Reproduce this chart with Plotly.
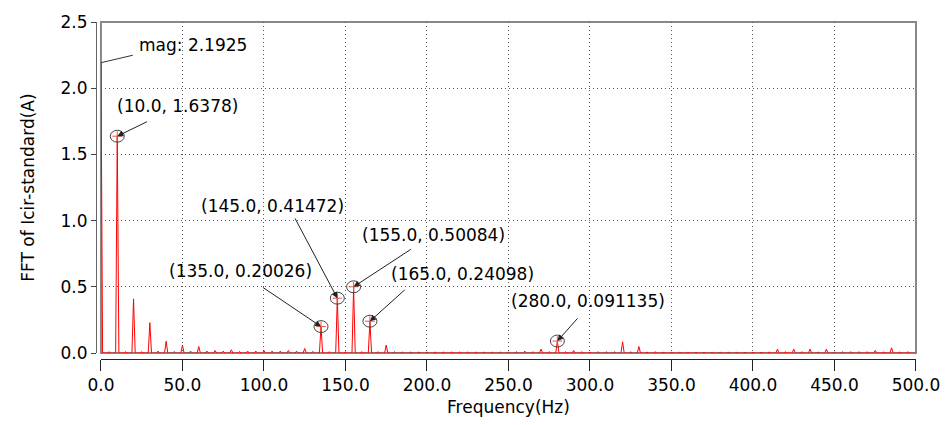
import plotly.graph_objects as go

# Spectrum magnitudes sampled on the 5 Hz harmonic grid (0 ... 500 Hz)
freq_hz = list(range(0, 505, 5))
magnitude = [
    2.1925, 0.010, 1.6378, 0.010, 0.41, 0.010, 0.23, 0.015, 0.09, 0.012,   # 0-45
    0.06, 0.015, 0.05, 0.015, 0.02, 0.015, 0.025, 0.012, 0.015, 0.015,     # 50-95
    0.02, 0.015, 0.015, 0.02, 0.015, 0.035, 0.012, 0.20026, 0.010, 0.41472,  # 100-145
    0.010, 0.50084, 0.010, 0.24098, 0.010, 0.06, 0.010, 0.008, 0.008, 0.008,  # 150-195
    0.008, 0.008, 0.008, 0.008, 0.008, 0.008, 0.008, 0.008, 0.008, 0.008,  # 200-245
    0.008, 0.010, 0.015, 0.010, 0.03, 0.010, 0.091135, 0.010, 0.02, 0.010,  # 250-295
    0.008, 0.010, 0.010, 0.010, 0.085, 0.010, 0.05, 0.008, 0.010, 0.006,   # 300-345
    0.006, 0.006, 0.006, 0.006, 0.006, 0.006, 0.006, 0.006, 0.006, 0.006,  # 350-395
    0.006, 0.006, 0.008, 0.03, 0.010, 0.03, 0.010, 0.03, 0.008, 0.03,      # 400-445
    0.008, 0.010, 0.010, 0.010, 0.010, 0.02, 0.008, 0.04, 0.008, 0.010,    # 450-495
    0.0,                                                                   # 500
]

# Marked harmonics: (frequency, magnitude) pairs shown with cursors
mark_freq = [10.0, 135.0, 145.0, 155.0, 165.0, 280.0]
mark_mag = [1.6378, 0.20026, 0.41472, 0.50084, 0.24098, 0.091135]
# Label anchors (left/middle) and leader-line tails in data units
label_x = [8.5, 40.8, 60.2, 158.8, 177.0, 250.6]
label_y = [1.864, 0.621, 1.109, 0.895, 0.599, 0.392]
tail_x = [29.2, 98.5, 118.6, 191.0, 187.3, 293.2]
tail_y = [1.753, 0.503, 1.028, 0.791, 0.488, 0.274]

x_ticks = [0, 50, 100, 150, 200, 250, 300, 350, 400, 450, 500]
y_ticks = [0.0, 0.5, 1.0, 1.5, 2.0, 2.5]

# Each spectral line drawn as a narrow peak on the zero baseline
half_bin = 1.0
line_x, line_y = [], []
for f, m in zip(freq_hz, magnitude):
    line_x += [f - half_bin, f, f + half_bin]
    line_y += [0.0, m, 0.0]

FONT = "DejaVu Sans"
fig = go.Figure()
fig.add_trace(go.Scatter(
    x=line_x, y=line_y, mode="lines",
    line=dict(color="#ff0000", width=1), hoverinfo="skip", showlegend=False,
))
# small cross-hairs at the cursor points
fig.add_trace(go.Scatter(
    x=mark_freq, y=mark_mag, mode="markers",
    marker=dict(symbol="cross-thin-open", size=7, line=dict(color="#555555", width=1)),
    hoverinfo="skip", showlegend=False,
))

shapes = []
# cursor circles
rx, ry = 4.3, 0.045
for f, m in zip(mark_freq, mark_mag):
    shapes.append(dict(type="circle", xref="x", yref="y",
                       x0=f - rx, x1=f + rx, y0=m - ry, y1=m + ry,
                       line=dict(color="#444444", width=1)))
# plot frame (under the trace so the DC line stays visible)
shapes.append(dict(type="rect", xref="x domain", yref="y domain",
                   x0=0, x1=1, y0=0, y1=1, layer="below",
                   line=dict(color="#888888", width=2)))
# DC magnitude leader line
shapes.append(dict(type="line", xref="x", yref="y",
                   x0=freq_hz[0], y0=magnitude[0], x1=19.5, y1=2.249,
                   line=dict(color="#333333", width=1)))

annotations = [dict(
    x=21.9, y=2.33, xref="x", yref="y", text=f"mag: {magnitude[0]:.4f}",
    showarrow=False, xanchor="left", yanchor="middle",
    font=dict(family=FONT, size=17, color="#000000"),
)]
for f, m, lx, ly, tx, ty in zip(mark_freq, mark_mag, label_x, label_y, tail_x, tail_y):
    annotations.append(dict(
        x=lx, y=ly, xref="x", yref="y", text=f"({f:.1f}, {m:g})",
        showarrow=False, xanchor="left", yanchor="middle",
        font=dict(family=FONT, size=17, color="#000000"),
    ))
    annotations.append(dict(
        x=f, y=m, xref="x", yref="y", ax=tx, ay=ty, axref="x", ayref="y",
        text="", showarrow=True, arrowhead=2, arrowsize=1.2, arrowwidth=1,
        arrowcolor="#222222", standoff=0, startstandoff=0,
    ))

fig.update_layout(
    width=952, height=425,
    margin=dict(l=96, r=29, t=17, b=64),
    paper_bgcolor="white", plot_bgcolor="white",
    font=dict(family=FONT, size=17, color="#000000"),
    shapes=shapes, annotations=annotations,
    xaxis=dict(
        domain=[5 / 827, 1], anchor="free", position=0,
        range=[0, 500], tickvals=x_ticks, tickformat=".1f",
        showline=True, linecolor="#222222", linewidth=1,
        ticks="outside", ticklen=11, tickcolor="#222222",
        showgrid=True, gridcolor="#555555", griddash="1px,3px", gridwidth=1,
        zeroline=False,
        title=dict(text="Frequency(Hz)", standoff=6, font=dict(size=17)),
    ),
    yaxis=dict(
        domain=[6 / 344, 1], anchor="free", position=0,
        range=[0, 2.5], tickvals=y_ticks, tickformat=".1f",
        showline=True, linecolor="#666666", linewidth=1,
        ticks="outside", ticklen=5, tickcolor="#444444",
        showgrid=True, gridcolor="#555555", griddash="1px,3px", gridwidth=1,
        zeroline=False,
        title=dict(text="FFT of Icir-standard(A)", standoff=20, font=dict(size=17)),
    ),
)

fig.write_html("out.html")
